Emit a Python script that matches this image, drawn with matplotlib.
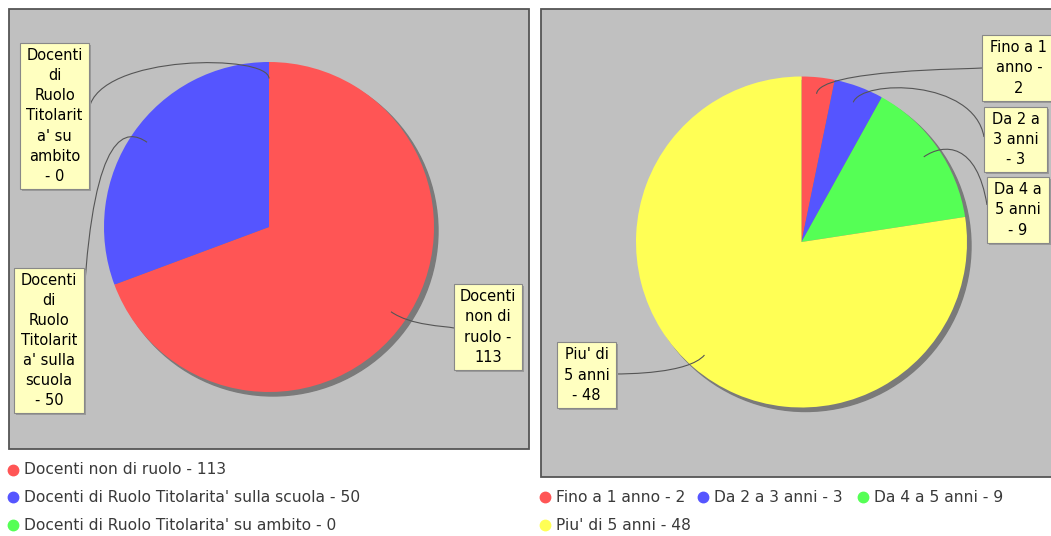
import numpy as np
import matplotlib
matplotlib.use("Agg")
import matplotlib.pyplot as plt
from matplotlib.patches import Rectangle, Circle, PathPatch
from matplotlib.path import Path

# data
left_names = ["Docenti non di ruolo",
              "Docenti di Ruolo Titolarita' sulla scuola",
              "Docenti di Ruolo Titolarita' su ambito"]
left_values = [113, 50, 0]
left_wrapped = ["Docenti\nnon di\nruolo -\n{}",
                "Docenti\ndi\nRuolo\nTitolarit\na' sulla\nscuola\n- {}",
                "Docenti\ndi\nRuolo\nTitolarit\na' su\nambito\n- {}"]

right_names = ["Fino a 1 anno", "Da 2 a 3 anni", "Da 4 a 5 anni", "Piu' di 5 anni"]
right_values = [2, 3, 9, 48]
right_wrapped = ["Fino a 1\nanno -\n{}", "Da 2 a\n3 anni\n- {}",
                 "Da 4 a\n5 anni\n- {}", "Piu' di\n5 anni\n- {}"]

left_colors = ["#FF5555", "#5555FF", "#55FF55"]
right_colors = ["#FF5555", "#5555FF", "#55FF55", "#FFFF55"]

W, H = 1051, 536
FS = 10.5
LEG_FS = 11.2

fig = plt.figure(figsize=(W / 100, H / 100), dpi=100)
ax = fig.add_axes([0, 0, 1, 1])


def Y(y):
    # image row -> axes y (up)
    return H - y


def panel(x0, y0, x1, y1):
    ax.add_patch(Rectangle((x0, Y(y1)), x1 - x0, y1 - y0, facecolor="#C0C0C0",
                           edgecolor="#555555", lw=1.3, zorder=0))


def draw_pie(values, colors, cx, cy, r, boxes, texts):
    ax.add_patch(Circle((cx + 4, Y(cy) - 4), r, color="#7A7A7A", zorder=1))
    ax.pie(values, colors=colors, startangle=90, counterclock=False,
           center=(cx, Y(cy)), radius=r, frame=True,
           wedgeprops=dict(linewidth=0, zorder=2))
    total = float(sum(values))
    cum = np.cumsum([0] + list(values))
    for i, v in enumerate(values):
        mid = (cum[i] + v / 2.0) / total
        ang = np.deg2rad(90 - 360 * mid)
        lx, ly = cx + 0.9 * r * np.cos(ang), Y(cy) + 0.9 * r * np.sin(ang)
        ex, ey = cx + 1.05 * r * np.cos(ang), Y(cy) + 1.05 * r * np.sin(ang)
        bx0, by0, bx1, by1, tx, ty = boxes[i]
        step = 10 if tx < cx else -10
        verts = [(tx, Y(ty)), (tx + step, ey), (ex, ey), (lx, ly)]
        codes = [Path.MOVETO, Path.CURVE4, Path.CURVE4, Path.CURVE4]
        ax.add_patch(PathPatch(Path(verts, codes), facecolor="none",
                               edgecolor="#555555", lw=0.8, zorder=3))
        # label box with small shadow
        ax.add_patch(Rectangle((bx0 + 2, Y(by1) - 2), bx1 - bx0, by1 - by0,
                               facecolor="#9A9A9A", edgecolor="none", zorder=4))
        ax.add_patch(Rectangle((bx0, Y(by1)), bx1 - bx0, by1 - by0,
                               facecolor="#FFFFC0", edgecolor="#888888",
                               lw=0.8, zorder=5))
        ax.text((bx0 + bx1) / 2, Y((by0 + by1) / 2), texts[i].format(v),
                ha="center", va="center", multialignment="center",
                fontsize=FS, linespacing=1.42, color="black", zorder=6)


panel(9, 9, 529, 449)
panel(541, 9, 1060, 477)

# box: x0, y0, x1, y1, link target x, y (image pixels)
left_boxes = [(454, 284, 522, 370, 454, 328),
              (14, 268, 84, 413, 84, 297),
              (20, 43, 89, 189, 89, 109)]
right_boxes = [(982, 35, 1056, 101, 982, 68),
               (984, 107, 1047, 172, 984, 137),
               (987, 177, 1049, 243, 987, 205),
               (557, 342, 616, 408, 616, 374)]

draw_pie(left_values, left_colors, 269, 227, 165, left_boxes, left_wrapped)
draw_pie(right_values, right_colors, 801.5, 242, 165.5, right_boxes, right_wrapped)

# legends
left_leg = [(12.5, 470, 0), (12.5, 497, 1), (12.5, 525, 2)]
for x, y, i in left_leg:
    ax.plot(x, Y(y), "o", ms=7.5, color=left_colors[i], mec=left_colors[i], zorder=7)
    ax.text(x + 11, Y(y), "%s - %d" % (left_names[i], left_values[i]),
            ha="left", va="center", fontsize=LEG_FS, color="#3A3A3A")

right_leg = [(545, 497, 0), (703, 497, 1), (863, 497, 2), (545, 525, 3)]
for x, y, i in right_leg:
    ax.plot(x, Y(y), "o", ms=7.5, color=right_colors[i], mec=right_colors[i], zorder=7)
    ax.text(x + 11, Y(y), "%s - %d" % (right_names[i], right_values[i]),
            ha="left", va="center", fontsize=LEG_FS, color="#3A3A3A")

ax.set_xlim(0, W)
ax.set_ylim(0, H)
ax.set_aspect("auto")
ax.axis("off")

fig.savefig("out.png", dpi=100, facecolor="white")
